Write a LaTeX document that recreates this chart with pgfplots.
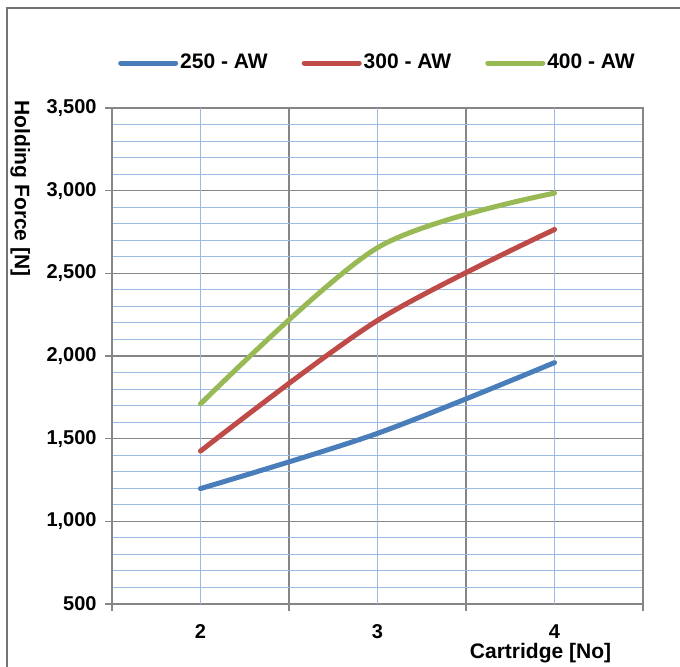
\documentclass[border=0pt]{standalone}
\usepackage{pgfplots}
\pgfplotsset{compat=1.18}
\usepackage{fontspec}
\setmainfont{Liberation Sans}
\definecolor{c250}{HTML}{4A7EBB}
\definecolor{c300}{HTML}{BE4B48}
\definecolor{c400}{HTML}{98B954}
\definecolor{gridblue}{HTML}{9DBBE2}
\definecolor{griddark}{HTML}{868686}
\begin{document}
\begin{tikzpicture}
\begin{axis}[
  at={(0,0)}, anchor=south west, scale only axis,
  width=265.5pt, height=248pt,
  xmin=1.5, xmax=4.5, ymin=500, ymax=3500,
  xtick={1.5,2.5,3.5,4.5}, xticklabels={},
  extra x ticks={2,3,4}, extra x tick labels={2,3,4},
  extra x tick style={grid=major, major grid style={gridblue, line width=0.55pt}, major tick length=0pt},
  ytick={500,1000,...,3500}, minor y tick num=4,
  xtick pos=bottom, ytick pos=left,
  xmajorgrids, ymajorgrids, yminorgrids,
  major grid style={griddark, line width=0.7pt},
  minor grid style={gridblue, line width=0.55pt},
  tick align=outside, major tick length=3.5pt, minor tick length=0pt,
  tick style={griddark, line width=0.7pt},
  axis line style={griddark, line width=0.75pt},
  /pgf/number format/.cd, 1000 sep={,}, assume math mode=true, /pgfplots/.cd,
  ticklabel style={font=\bfseries\fontsize{10}{12}\selectfont},
  yticklabel style={inner sep=0pt, anchor=east, xshift=-4pt},
  xticklabel style={inner sep=0pt, anchor=north, yshift=-10pt},
  xlabel={Cartridge [No]},
  xlabel style={at={(rel axis cs:0.807,0)}, anchor=north, inner sep=0pt, yshift=-19.5pt, font=\bfseries\fontsize{10.5}{12}\selectfont},
  legend columns=3,
  legend style={draw=none, fill=none, at={(0.5,1.0907)}, anchor=center,
    font=\bfseries\fontsize{10.5}{12}\selectfont,
    nodes={inner sep=1pt},
    /tikz/every even column/.append style={column sep=16pt}},
  legend image code/.code={\draw[#1, line cap=round] (0pt,0pt) -- (27.5pt,0pt);},
  every axis plot/.append style={line width=2.5pt, line cap=round, smooth},
]
\addplot[c250] coordinates {(2,1198) (3,1532) (4,1960)};
\addlegendentry{250 - AW}
\addplot[c300] coordinates {(2,1425) (3,2215) (4,2765)};
\addlegendentry{300 - AW}
\addplot[c400] coordinates {(2,1710) (3,2655) (4,2985)};
\addlegendentry{400 - AW}
\end{axis}
\node[rotate=-90, anchor=south west, inner sep=0pt, font=\bfseries\fontsize{10.5}{12}\selectfont] at (-51pt,252pt) {Holding Force [N]};
\draw[black!55, line width=1pt] (-52.5pt,-40pt) -- (-52.5pt,298pt) -- (290pt,298pt);
\pgfresetboundingbox
\path[use as bounding box] (-56pt,-31.5pt) rectangle (284pt,302pt);
\end{tikzpicture}
\end{document}
